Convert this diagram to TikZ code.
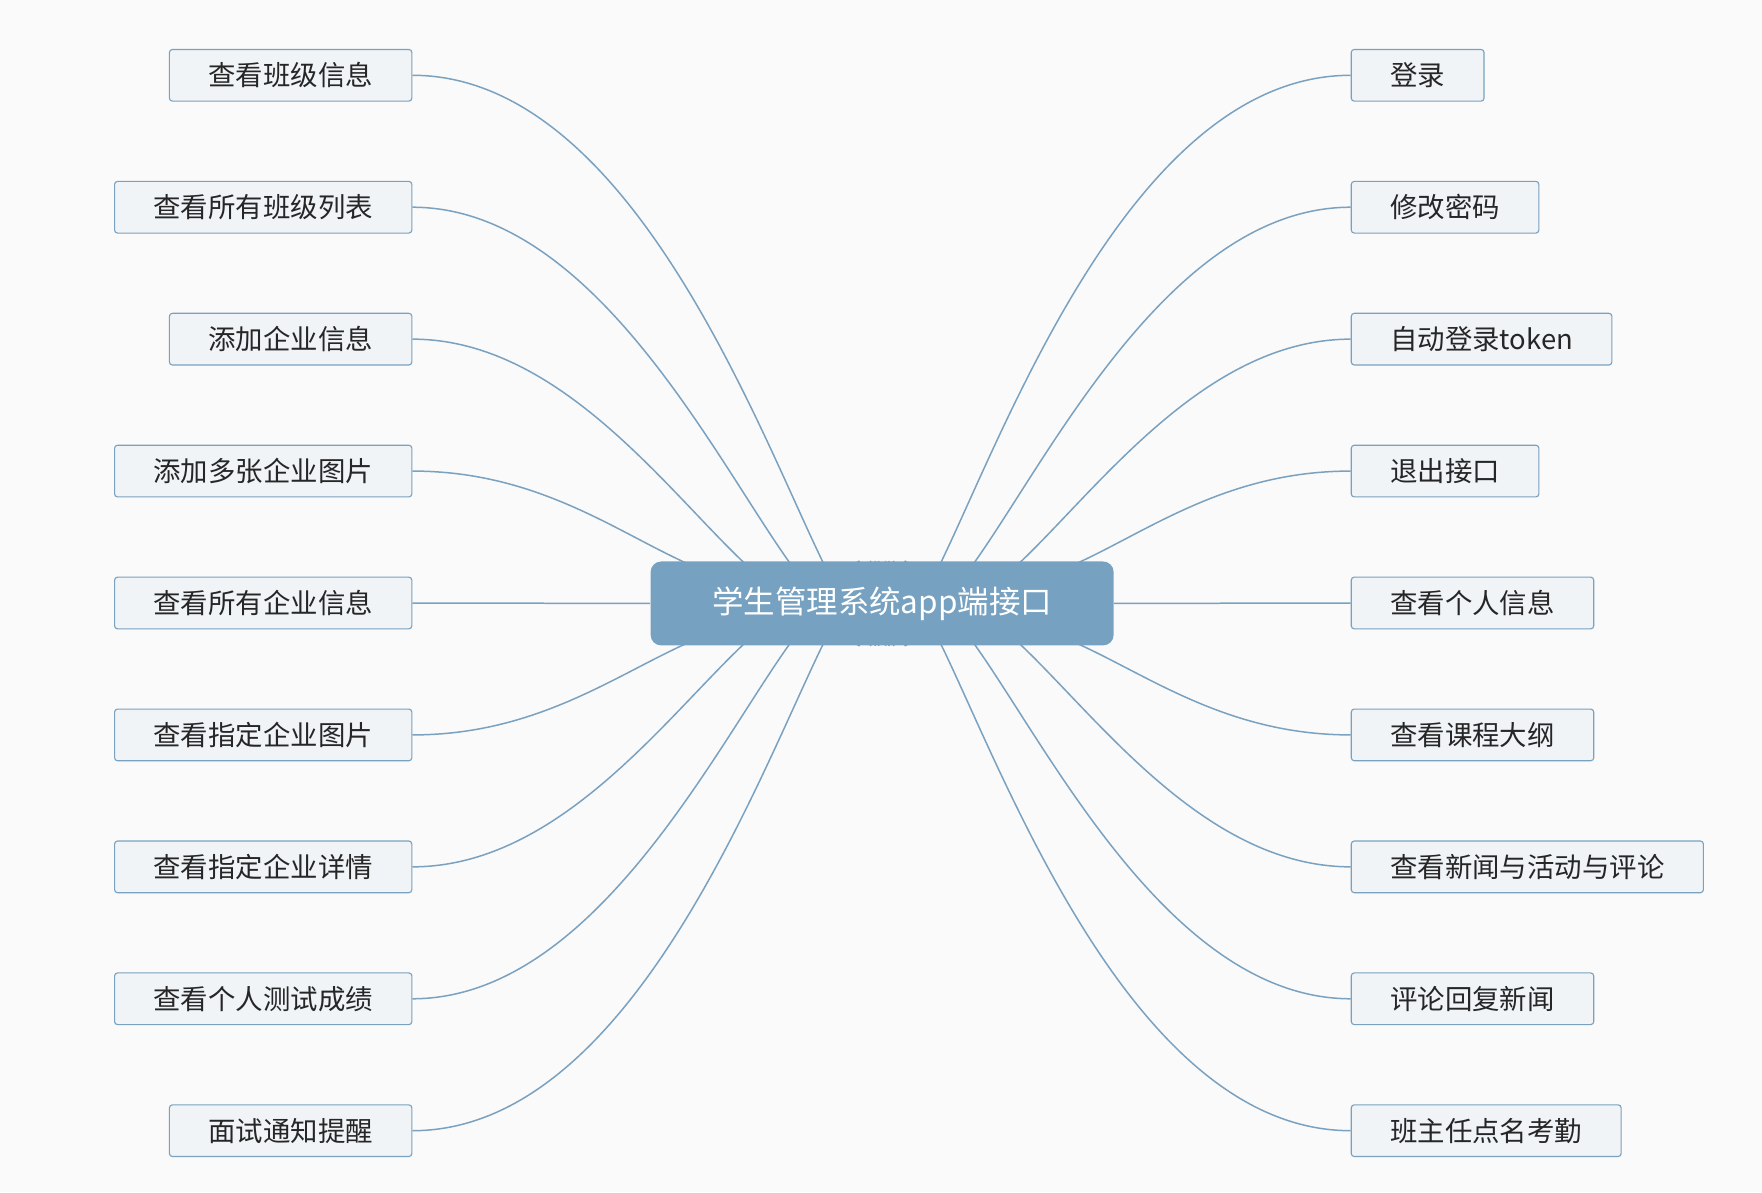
\documentclass[tikz,border=0pt]{standalone}
\usepackage{fontspec}
\setmainfont{Noto Sans CJK SC}
\usetikzlibrary{calc}
\pgfdeclarelayer{background}
\pgfsetlayers{background,main}
\definecolor{linkblue}{RGB}{122,162,192}
\definecolor{rootblue}{RGB}{118,161,192}
\definecolor{leaffill}{RGB}{240,244,247}
\tikzset{every picture/.style={line width=0.75pt}}
\tikzset{
  leaf/.style={draw=linkblue,fill=leaffill,rounded corners=2pt,minimum height=34.5pt,inner xsep=26pt,font=\fontsize{18.3}{21}\selectfont,text=black!85},
  root/.style={fill=rootblue,rounded corners=7pt,minimum width=309pt,minimum height=56pt,font=\fontsize{21}{24}\selectfont,text=white},
  link/.style={draw=linkblue,line width=1pt,out looseness=1.2}
}
\begin{document}
\begin{tikzpicture}[x=0.75pt,y=0.75pt,yscale=-1,xscale=1]
		%set diagram size
		\useasboundingbox (0,0) rectangle (1568,1061);
		
		% Root
		\node[root] (root) at (785,537) {学生管理系统app端接口};
		
		% Left leaves
		\foreach \i/\txt in {1/查看班级信息,2/查看所有班级列表,3/添加企业信息,4/添加多张企业图片,5/查看所有企业信息,6/查看指定企业图片,7/查看指定企业详情,8/查看个人测试成绩,9/面试通知提醒}
		  \node[leaf,anchor=east] (l\i) at (367,{67+117.4*(\i-1)}) {\txt};
		
		% Right leaves
		\foreach \i/\txt in {1/登录,2/修改密码,3/自动登录token,4/退出接口,5/查看个人信息,6/查看课程大纲,7/查看新闻与活动与评论,8/评论回复新闻,9/班主任点名考勤}
		  \node[leaf,anchor=west] (r\i) at (1202,{67+117.4*(\i-1)}) {\txt};
		
		\begin{pgfonlayer}{background}
		\fill[white!98!black] (0,0) rectangle (1568,1061);
		% Links above root
		\foreach \i/\dx/\ang in {1/3/95,2/6/103,3/10/115,4/20/150}{
		  \coordinate (tl\i) at ($(root.north)+(-\dx,0)$);
		  \coordinate (tr\i) at ($(root.north)+(\dx,0)$);
		  \draw[link] (l\i.east) to[out=0,in=\ang] (tl\i);
		  \draw[link] (r\i.west) to[out=180,in=180-\ang] (tr\i);
		}
		% Links below root
		\foreach \i/\dx/\ang in {6/20/150,7/10/115,8/6/103,9/3/95}{
		  \coordinate (bl\i) at ($(root.south)+(-\dx,0)$);
		  \coordinate (br\i) at ($(root.south)+(\dx,0)$);
		  \draw[link] (l\i.east) to[out=0,in=-\ang] (bl\i);
		  \draw[link] (r\i.west) to[out=180,in=\ang-180] (br\i);
		}
		% Straight links
		\draw[link] (l5.east) -- (root.west);
		\draw[link] (r5.west) -- (root.east);
		\end{pgfonlayer}
		
\end{tikzpicture}
\end{document}
